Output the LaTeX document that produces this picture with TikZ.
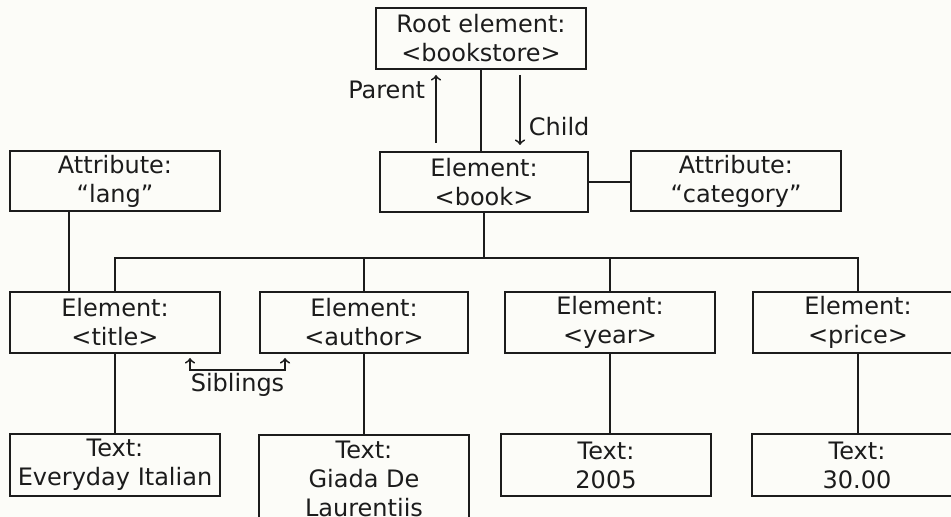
\documentclass[tikz,border=0pt]{standalone}
\usepackage{fontspec}
\setmainfont{DejaVu Sans}
\usepackage{tikz}
\usetikzlibrary{
  arrows,
  positioning
}
\definecolor{paper}{RGB}{252,252,248}
\definecolor{ink}{RGB}{28,28,28}

\begin{document}
\begin{tikzpicture}[
      x=0.5pt,y=-0.5pt,
      box/.style={
         rectangle,
         draw=ink,
         line width=0.9pt,
         minimum width=105pt,
         minimum height=30.5pt,
         inner sep=0pt,
         align=center,
         text=ink,
         font=\fontsize{12}{14.5}\selectfont
      },
      tag/.style={
         text=ink,
         inner sep=1pt,
         font=\fontsize{12}{14.5}\selectfont
      },
      point/.style={coordinate},>=to,color=ink,line width=0.9pt
    ]
    \fill[paper] (0,0) rectangle (951,517);
    \clip (0,0) rectangle (951,517);
    % tree
    \node (root) [box] at (481,38.5) {Root element:\\<bookstore>};
    \node (book) [box, minimum width=104pt, minimum height=30pt] at (484,182) {Element:\\<book>};
    \node (lang) [box, minimum height=30pt] at (115,181) {Attribute:\\“lang”};
    \node (cat) [box, minimum height=30pt] at (736,181) {Attribute:\\“category”};
    \node (title) [box] at (115,322.5) {Element:\\<title>};
    \node (author) [box, minimum width=104pt] at (364,322.5) {Element:\\<author>};
    \node (year) [box] at (610,322.5) {Element:\\<year>};
    \node (price) [box] at (858,322.5) {Element:\\<price>};
    \node (t1) [box, minimum height=31pt] at (115,465) {Text:\\Everyday Italian};
    \node (t2) [box, minimum height=44pt, anchor=north] at (364,434) {Text:\\Giada De\\Laurentiis};
    \node (t3) [box, minimum height=31pt] at (606,465) {Text:\\2005};
    \node (t4) [box, minimum height=31pt] at (857,465) {Text:\\30.00};
    \coordinate (bus) at ([yshift=-22.5pt]book.south);
    % connectors
    \draw (root.south) -- (root.south |- book.north);
    \draw (book.east) -- (book.east -| cat.west);
    \draw (book.south) -- (bus);
    \foreach \n in {title,author,year,price}
       \draw (bus) -| (\n.north);
    \foreach \a/\b in {title/t1,author/t2,year/t3,price/t4}
       \draw (\a.south) -- (\a.south |- \b.north);
    \draw ([xshift=30pt]lang.south west) -- ([xshift=30pt]title.north west);
    % parent / child / siblings
    \coordinate (par a) at (436,143);
    \coordinate (par b) at (436,75);
    \coordinate (ch a) at (520,75);
    \coordinate (ch b) at (520,145);
    \coordinate (sib a) at (190,358);
    \coordinate (sib b) at (285,358);
    \draw[->] (par a) -- (par b);
    \draw[->] (ch a) -- (ch b);
    \draw[<->] (sib a) -- ++(0,12) -| (sib b);
    \node (parent) [tag, anchor=east] at ([xshift=-4pt,yshift=-7.5pt]par b) {Parent};
    \node (child) [tag, anchor=west] at ([xshift=3pt,yshift=9pt]ch b) {Child};
    \node (siblings) [tag] at (237.5,385) {Siblings};
\end{tikzpicture}
\end{document}
